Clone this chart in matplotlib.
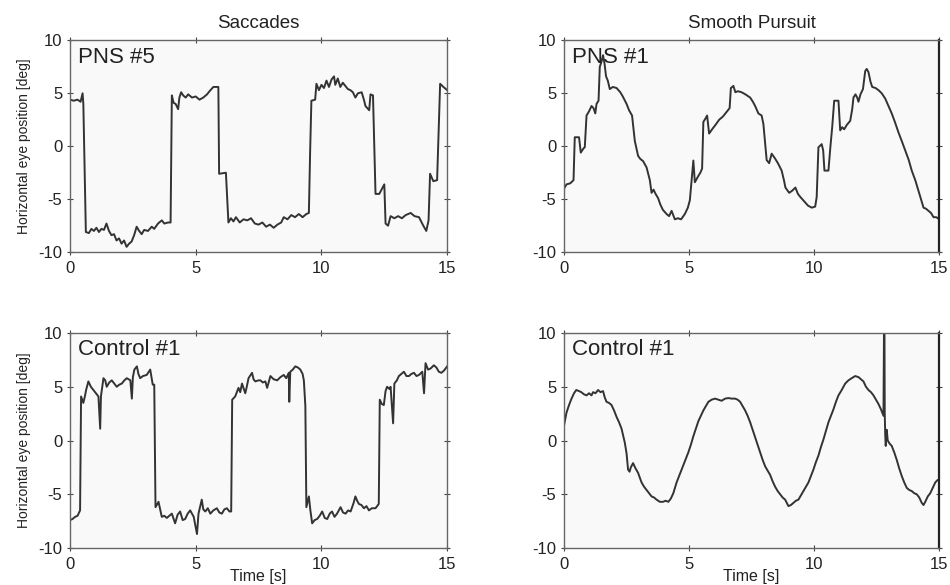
import matplotlib.pyplot as plt

plt.rcParams['font.family'] = ['Liberation Sans', 'DejaVu Sans']
plt.rcParams['axes.unicode_minus'] = False

# Sacadas - PNS #5 (tempo em s, posição em graus)
t_sac_pns = [0, 0.15, 0.3, 0.42, 0.5, 0.53, 0.63, 0.75, 0.85, 0.95, 1.05, 1.15, 1.25, 1.35, 1.45, 1.55,
             1.65, 1.75, 1.85, 1.95, 2.05, 2.15, 2.25, 2.35, 2.45, 2.55, 2.65, 2.75, 2.85, 2.95, 3.1, 3.25,
             3.35, 3.5, 3.65, 3.75, 3.9, 4.0, 4.05, 4.12, 4.2, 4.3, 4.35, 4.42, 4.5, 4.6, 4.7, 4.85, 5.0,
             5.15, 5.3, 5.45, 5.55, 5.7, 5.9, 5.93, 6.2, 6.3, 6.4, 6.5, 6.6, 6.75, 6.9, 7.05, 7.2, 7.35,
             7.5, 7.65, 7.8, 7.95, 8.1, 8.25, 8.4, 8.5, 8.65, 8.8, 8.95, 9.1, 9.25, 9.4, 9.5, 9.55, 9.6,
             9.75, 9.8, 9.9, 10.0, 10.1, 10.2, 10.3, 10.4, 10.5, 10.55, 10.65, 10.75, 10.85, 10.95, 11.05,
             11.15, 11.25, 11.35, 11.45, 11.6, 11.7, 11.75, 11.9, 11.95, 12.05, 12.15, 12.3, 12.5, 12.55,
             12.65, 12.75, 12.9, 13.05, 13.2, 13.35, 13.55, 13.7, 13.88, 14.05, 14.17, 14.26, 14.32, 14.45,
             14.6, 14.72, 14.85, 15.0]
y_sac_pns = [4.4, 4.3, 4.4, 4.2, 5.0, 4.0, -8.1, -8.2, -7.8, -8.0, -7.7, -8.1, -7.8, -7.9, -7.3, -8.0,
             -8.4, -8.3, -8.9, -8.7, -9.2, -8.9, -9.5, -9.2, -9.0, -8.4, -7.6, -8.0, -8.3, -7.9, -8.0, -7.6,
             -7.8, -7.3, -7.0, -7.3, -7.2, -7.2, 4.8, 4.1, 4.0, 3.5, 4.6, 5.1, 4.8, 4.6, 4.9, 4.6, 4.7,
             4.4, 4.6, 4.9, 5.2, 5.6, 5.6, -2.6, -2.5, -7.2, -6.8, -7.1, -6.7, -7.2, -6.9, -7.0, -6.8, -7.3,
             -7.4, -7.2, -7.6, -7.4, -7.7, -7.4, -7.2, -6.7, -6.9, -6.5, -6.7, -6.4, -6.7, -6.4, -6.3, -0.5, 4.3,
             4.4, 5.9, 5.3, 5.8, 5.5, 6.2, 5.6, 6.3, 6.6, 5.8, 6.4, 5.6, 6.0, 5.7, 5.4,
             5.3, 5.1, 4.6, 5.0, 5.1, 4.3, 3.8, 3.4, 4.9, 4.8, -4.5, -4.5, -3.6, -7.3,
             -7.5, -6.6, -6.8, -6.6, -6.8, -6.5, -6.3, -6.6, -6.7, -7.5, -8.0, -7.0, -2.6, -3.3,
             -3.2, 5.9, 5.6, 5.3]

# Perseguição suave - PNS #1
t_sp_pns = [0, 0.1, 0.25, 0.38, 0.43, 0.6, 0.67, 0.78, 0.83, 0.9, 1.0, 1.1, 1.18, 1.25, 1.3, 1.38, 1.43,
            1.5, 1.56, 1.62, 1.68, 1.75, 1.83, 1.95, 2.1, 2.25, 2.35, 2.5, 2.6, 2.72, 2.83, 2.96, 3.05,
            3.16, 3.3, 3.43, 3.5, 3.58, 3.66, 3.76, 3.85, 3.95, 4.1, 4.2, 4.3, 4.43, 4.55, 4.68, 4.83,
            4.95, 5.03, 5.1, 5.17, 5.23, 5.3, 5.37, 5.45, 5.52, 5.57, 5.65, 5.72, 5.8, 5.95, 6.05, 6.2,
            6.35, 6.55, 6.62, 6.67, 6.77, 6.85, 6.95, 7.1, 7.25, 7.44, 7.55, 7.64, 7.77, 7.9, 7.97, 8.1,
            8.2, 8.3, 8.42, 8.55, 8.7, 8.8, 8.85, 9.0, 9.12, 9.25, 9.35, 9.45, 9.6, 9.75, 9.9, 10.04,
            10.1, 10.17, 10.3, 10.36, 10.41, 10.57, 10.65, 10.72, 10.8, 10.97, 11.04, 11.12, 11.2, 11.3,
            11.44, 11.52, 11.57, 11.65, 11.72, 11.77, 11.85, 11.95, 12.04, 12.1, 12.17, 12.25, 12.32,
            12.45, 12.57, 12.7, 12.84, 12.97, 13.1, 13.24, 13.37, 13.5, 13.64, 13.78, 13.9, 14.04, 14.17,
            14.27, 14.37, 14.47, 14.57, 14.67, 14.77, 14.88, 15.0]
y_sp_pns = [-4.0, -3.6, -3.5, -3.2, 0.85, 0.85, -0.6, -0.2, -0.1, 2.9, 3.3, 3.8, 3.6, 3.1, 4.0, 4.3, 7.5,
            8.0, 8.6, 7.8, 6.6, 6.2, 5.4, 5.6, 5.5, 5.1, 4.7, 4.0, 3.4, 2.9, 0.5, -0.9, -1.2,
            -1.4, -2.0, -3.2, -4.4, -4.1, -4.5, -4.9, -5.5, -6.0, -6.4, -6.6, -6.1, -6.9, -6.8, -6.9, -6.4,
            -5.8, -5.1, -3.2, -1.35, -3.4, -3.1, -2.8, -2.5, -2.1, 2.3, 2.6, 2.9, 1.2, 1.7, 2.0, 2.5,
            2.8, 3.4, 3.6, 5.5, 5.7, 5.1, 5.2, 5.1, 4.9, 4.6, 4.2, 3.8, 3.1, 2.9, 2.1, -1.3,
            -1.6, -0.7, -1.1, -1.6, -2.3, -3.3, -3.9, -4.4, -4.2, -3.9, -4.5, -4.8, -5.2, -5.6, -5.8, -5.7,
            -4.8, -0.1, 0.2, -0.4, -2.3, -2.3, 0.0, 1.8, 4.3, 4.3, 1.5, 1.8, 1.6, 2.0,
            2.4, 3.5, 4.6, 4.9, 4.6, 4.2, 4.9, 5.4, 7.1, 7.3, 7.0, 6.1, 5.6,
            5.5, 5.3, 5.0, 4.5, 3.8, 3.1, 2.2, 1.3, 0.5, -0.4, -1.3, -2.3, -3.2, -4.2,
            -5.0, -5.8, -5.9, -6.1, -6.3, -6.7, -6.7, -6.9]

# Sacadas - Controle #1
t_sac_ctl = [0, 0.1, 0.2, 0.3, 0.4, 0.44, 0.53, 0.6, 0.64, 0.73, 0.83, 0.93, 1.03, 1.13, 1.2, 1.23, 1.33,
             1.4, 1.46, 1.56, 1.66, 1.76, 1.86, 1.96, 2.06, 2.16, 2.26, 2.4, 2.46, 2.5, 2.56, 2.66, 2.72,
             2.79, 2.9, 3.05, 3.19, 3.29, 3.35, 3.4, 3.52, 3.65, 3.75, 3.85, 3.95, 4.05, 4.18, 4.28, 4.38,
             4.48, 4.58, 4.68, 4.78, 4.92, 5.05, 5.11, 5.24, 5.3, 5.38, 5.48, 5.58, 5.7, 5.84, 5.94, 6.04,
             6.14, 6.24, 6.34, 6.41, 6.45, 6.57, 6.7, 6.77, 6.84, 6.97, 7.03, 7.1, 7.24, 7.3, 7.37, 7.5,
             7.57, 7.67, 7.77, 7.84, 7.97, 8.1, 8.24, 8.37, 8.5, 8.6, 8.7, 8.72, 8.76, 8.86, 8.96, 9.06,
             9.16, 9.25, 9.3, 9.36, 9.4, 9.5, 9.56, 9.63, 9.73, 9.83, 9.93, 10.03, 10.13, 10.23, 10.33,
             10.42, 10.52, 10.62, 10.76, 10.86, 10.96, 11.06, 11.16, 11.28, 11.35, 11.42, 11.49, 11.59,
             11.69, 11.79, 11.89, 12.0, 12.15, 12.28, 12.32, 12.4, 12.48, 12.55, 12.61, 12.7, 12.75, 12.85,
             12.9, 13.0, 13.08, 13.18, 13.28, 13.38, 13.48, 13.58, 13.68, 13.78, 13.88, 14.01, 14.08, 14.14,
             14.24, 14.34, 14.47, 14.57, 14.67, 14.77, 14.87, 15.0]
y_sac_ctl = [-7.4, -7.3, -7.1, -7.0, -6.5, 4.1, 3.5, 4.2, 4.7, 5.5, 5.0, 4.7, 4.4, 4.1, 1.1, 4.1, 5.8,
             5.6, 5.0, 5.4, 5.6, 5.3, 5.0, 5.2, 5.3, 5.6, 5.8, 5.6, 3.9, 5.9, 6.6, 6.9, 6.2,
             5.8, 6.0, 6.1, 6.6, 5.2, 5.2, -6.2, -5.7, -7.1, -7.0, -7.2, -7.0, -6.8, -7.7, -6.9, -6.6,
             -7.4, -7.3, -6.8, -6.5, -7.1, -8.7, -6.8, -5.5, -6.4, -6.6, -6.3, -6.8, -6.5, -6.3, -6.7, -6.8,
             -6.4, -6.3, -6.6, -6.6, 3.8, 4.1, 4.9, 4.5, 5.3, 4.4, 5.0, 5.8, 6.3, 5.7, 5.5, 5.6,
             5.6, 5.4, 5.5, 4.9, 6.0, 5.7, 5.6, 5.9, 6.1, 5.8, 6.3, 3.6, 6.4, 6.6, 6.9, 6.8,
             6.6, 6.2, 5.6, 3.2, -6.2, -5.2, -6.5, -7.7, -7.4, -7.3, -7.0, -6.6, -7.2, -7.3, -6.8,
             -6.6, -7.1, -6.8, -6.2, -6.7, -6.8, -6.5, -6.6, -5.8, -5.2, -5.6, -5.9, -6.0,
             -6.3, -6.1, -6.5, -6.3, -6.3, -5.9, 3.8, 3.4, 3.3, 4.6, 5.0, 4.8, 5.0, 1.6,
             5.3, 5.6, 6.0, 6.2, 6.4, 6.0, 6.0, 6.2, 6.3, 6.0, 6.1, 6.4, 4.4, 7.2,
             6.6, 6.7, 7.0, 6.8, 6.4, 6.3, 6.5, 6.9]

# Perseguição suave - Controle #1
t_sp_ctl = [0, 0.1, 0.2, 0.3, 0.4, 0.49, 0.6, 0.69, 0.8, 0.9, 1.0, 1.1, 1.16, 1.26, 1.36, 1.46, 1.56,
            1.63, 1.7, 1.8, 1.9, 2.0, 2.1, 2.2, 2.3, 2.43, 2.5, 2.56, 2.62, 2.67, 2.76, 2.86, 2.96, 3.1,
            3.2, 3.3, 3.4, 3.5, 3.6, 3.7, 3.83, 3.96, 4.06, 4.17, 4.27, 4.37, 4.5, 4.6, 4.7, 4.83, 4.97,
            5.07, 5.17, 5.27, 5.37, 5.47, 5.57, 5.67, 5.77, 5.9, 6.04, 6.17, 6.3, 6.44, 6.57, 6.7, 6.84,
            6.94, 7.04, 7.14, 7.24, 7.34, 7.44, 7.54, 7.64, 7.74, 7.84, 7.94, 8.04, 8.14, 8.24, 8.34,
            8.44, 8.54, 8.64, 8.74, 8.84, 8.97, 9.07, 9.17, 9.27, 9.37, 9.47, 9.57, 9.67, 9.77, 9.87,
            9.97, 10.07, 10.17, 10.27, 10.37, 10.47, 10.57, 10.67, 10.77, 10.87, 10.97, 11.1, 11.24,
            11.37, 11.5, 11.64, 11.77, 11.87, 11.97, 12.07, 12.17, 12.27, 12.37, 12.47, 12.57, 12.67,
            12.77, 12.79, 12.81, 12.82, 12.84, 12.86, 12.9, 12.94, 13.02, 13.1, 13.2, 13.3, 13.4, 13.5,
            13.6, 13.7, 13.8, 13.9, 14.0, 14.1, 14.2, 14.3, 14.37, 14.44, 14.54, 14.64, 14.74, 14.84,
            14.92, 15.0]
y_sp_ctl = [1.4, 2.6, 3.3, 3.9, 4.4, 4.7, 4.6, 4.5, 4.3, 4.2, 4.4, 4.2, 4.5, 4.4, 4.7, 4.5, 4.6,
            4.0, 3.6, 3.5, 3.3, 2.8, 2.2, 1.7, 1.1, -0.2, -1.2, -2.7, -2.9, -2.5, -2.1, -2.6, -3.0, -3.9,
            -4.3, -4.6, -4.9, -5.2, -5.3, -5.5, -5.7, -5.7, -5.6, -5.7, -5.4, -4.9, -3.9, -3.3, -2.7, -1.9, -1.1,
            -0.4, 0.4, 1.1, 1.8, 2.3, 2.8, 3.2, 3.6, 3.8, 3.9, 3.8, 3.7, 3.9, 3.95, 3.9, 3.9,
            3.8, 3.6, 3.2, 2.8, 2.3, 1.7, 1.0, 0.3, -0.4, -1.1, -1.8, -2.4, -2.8, -3.2, -3.8,
            -4.3, -4.7, -5.0, -5.3, -5.5, -6.1, -6.0, -5.8, -5.6, -5.5, -5.1, -4.7, -4.3, -3.9, -3.3,
            -2.7, -2.0, -1.4, -0.6, 0.1, 0.9, 1.7, 2.3, 2.9, 3.6, 4.2, 4.7, 5.3,
            5.6, 5.8, 6.0, 5.9, 5.7, 5.5, 5.0, 4.7, 4.5, 4.2, 3.8, 3.4, 2.9,
            2.3, 10.0, 10.0, 2.6, 0.5, -0.5, 1.0, 0.0, -0.3, -0.5, -1.1, -1.8, -2.6, -3.3,
            -3.9, -4.4, -4.6, -4.7, -4.9, -5.0, -5.3, -5.8, -6.0, -5.7, -5.2, -4.9, -4.4, -3.9,
            -3.7, -3.6]

panels = [
    (t_sac_pns, y_sac_pns, 'PNS #5'),
    (t_sp_pns, y_sp_pns, 'PNS #1'),
    (t_sac_ctl, y_sac_ctl, 'Control #1'),
    (t_sp_ctl, y_sp_ctl, 'Control #1'),
]
column_titles = ['Saccades', 'Smooth Pursuit']
x_ticks = [0, 5, 10, 15]
y_ticks = [-10, -5, 0, 5, 10]

fig = plt.figure(figsize=(9.5, 5.85), dpi=100)
lefts = [0.0737, 0.5937]
bottoms = [0.569, 0.0632]
widths = [0.397, 0.395]
heights = [0.362, 0.3675]

for k, (t, y, label) in enumerate(panels):
    row, col = divmod(k, 2)
    ax = fig.add_axes([lefts[col], bottoms[row], widths[col], heights[row]])
    ax.set_facecolor('#f9f9f9')
    ax.plot(t, y, color='#333333', linewidth=1.4)
    ax.set_xlim(0, 15)
    ax.set_ylim(-10, 10)
    ax.set_xticks(x_ticks)
    ax.set_yticks(y_ticks)
    ax.tick_params(direction='inout', length=5, top=True, right=True, labelsize=12,
                   colors='#444444')
    ax.tick_params(axis='x', pad=4)
    ax.tick_params(axis='y', pad=3)
    ax.tick_params(axis='both', labelcolor='#222222')
    for s in ax.spines.values():
        s.set_color('#666666')
        s.set_linewidth(1.0)
    if col == 1:
        ax.spines['right'].set_color('#222222')
        ax.spines['right'].set_linewidth(1.6)
    ax.text(0.02, 0.97, label, transform=ax.transAxes, ha='left', va='top',
            fontsize=16, color='#222222')
    if col == 0:
        ax.set_ylabel('Horizontal eye position [deg]', fontsize=10, color='#222222', labelpad=5)
    if row == 0:
        ax.set_title(column_titles[col], fontsize=13.5, color='#222222', pad=9)
    else:
        ax.set_xlabel('Time [s]', fontsize=11.5, color='#222222', labelpad=-2)

plt.savefig('out.png', dpi=100)
